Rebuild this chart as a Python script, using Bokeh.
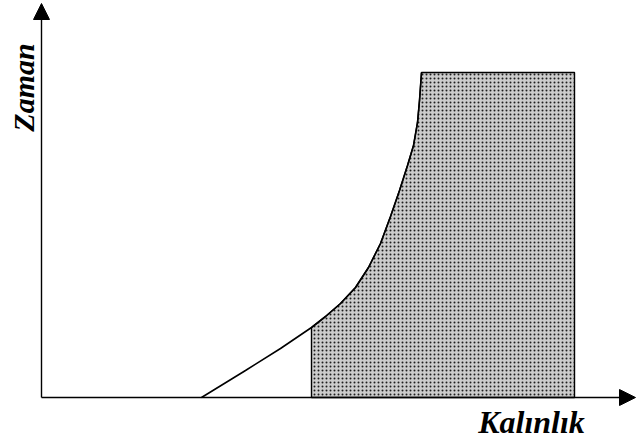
import math
from bokeh.plotting import figure
from bokeh.models import Range1d, Arrow, NormalHead, Label
from bokeh.embed import file_html
from bokeh.resources import INLINE

# Curve: time vs. thickness (arbitrary units)
curve_x = [160, 204, 239, 270, 284, 299, 314, 327, 339, 349, 358, 366, 372, 376, 378, 380]
curve_y = [0, 27, 49, 70, 81, 94, 110, 130, 154, 181, 207, 232, 252, 275, 297, 325]

# Shaded region bounds
shade_left = 270
shade_right = 533
shade_top = 325

x_label = "Kalınlık"
y_label = "Zaman"

W, H = 637, 439
p = figure(width=W, height=H, output_backend="svg", toolbar_location=None,
           x_range=Range1d(-41, 596), y_range=Range1d(-42, 397),
           min_border=0, min_border_left=0, min_border_right=0,
           min_border_top=0, min_border_bottom=0)
p.axis.visible = False
p.grid.visible = False
p.outline_line_color = None
p.background_fill_color = "white"
p.border_fill_color = "white"

# shaded polygon: vertical left edge up to curve, follow curve to top, across, down
px = [shade_left, shade_left]
py = [0, curve_y[curve_x.index(shade_left)]]
for cx, cy in zip(curve_x, curve_y):
    if cx > shade_left:
        px.append(cx)
        py.append(cy)
px += [shade_right, shade_right]
py += [shade_top, 0]

p.patch(px, py, fill_color="#cccccc", line_color="black", line_width=1.4,
        hatch_pattern="dot", hatch_scale=4, hatch_color="black", hatch_weight=2,
        hatch_alpha=0.85)

p.line(curve_x, curve_y, line_color="black", line_width=1.6)

# axes with arrows
p.add_layout(Arrow(x_start=0, y_start=0, x_end=0, y_end=394,
                   line_color="black", line_width=1.4,
                   end=NormalHead(size=16, fill_color="black", line_color="black")))
p.add_layout(Arrow(x_start=0, y_start=0, x_end=594, y_end=0,
                   line_color="black", line_width=1.6,
                   end=NormalHead(size=16, fill_color="black", line_color="black")))

p.add_layout(Label(x=-18, y=310, text=y_label, angle=math.pi / 2,
                   text_align="center", text_baseline="middle",
                   text_font="Liberation Serif", text_font_style="bold italic",
                   text_font_size="30px", text_color="black"))
p.add_layout(Label(x=490, y=-6, text=x_label,
                   text_align="center", text_baseline="top",
                   text_font="Liberation Serif", text_font_style="bold italic",
                   text_font_size="32px", text_color="black"))

open("out.html", "w").write(file_html(p, INLINE))
